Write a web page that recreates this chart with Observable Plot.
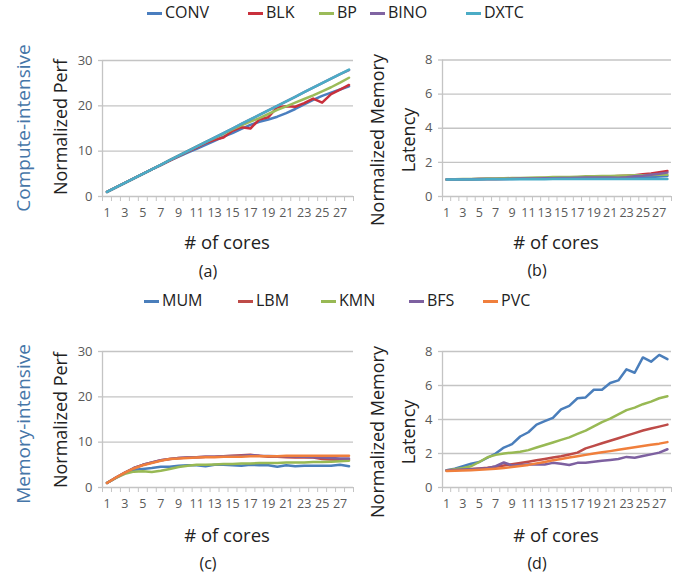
<!DOCTYPE html>
<html><head><meta charset="utf-8">
<script src="https://cdn.jsdelivr.net/npm/d3@7"></script>
<script src="https://cdn.jsdelivr.net/npm/@observablehq/plot@0.6"></script>
<style>
body{margin:0;background:#fff;font-family:"Open Sans",sans-serif;}
#wrap{position:relative;width:692px;height:575px;overflow:hidden;}
.abs{position:absolute;white-space:nowrap;line-height:1;}
.rot{transform:translate(-50%,-50%) rotate(-90deg);}
.ctr{transform:translate(-50%,-50%);}
.sw{position:absolute;height:3px;width:15px;}
svg{position:absolute;}
</style></head><body><div id="wrap"></div>
<script>
// ---------- data ----------
const cores = [1,2,3,4,5,6,7,8,9,10,11,12,13,14,15,16,17,18,19,20,21,22,23,24,25,26,27,28];
const xTickLabels = [1,3,5,7,9,11,13,15,17,19,21,23,25,27];
const xTickMarks = [0.5,1.5,2.5,3.5,4.5,5.5,6.5,7.5,8.5,9.5,10.5,11.5,12.5,13.5,14.5,15.5,16.5,17.5,18.5,19.5,20.5,21.5,22.5,23.5,24.5,25.5,26.5,27.5,28.5];
const perfTicks = [0,10,20,30];
const latTicks = [0,2,4,6,8];

const computeSeries = ["CONV","BLK","BP","BINO","DXTC"];
const memorySeries = ["MUM","LBM","KMN","BFS","PVC"];

// (a) compute-intensive normalized perf
const convPerf = [1,2,3,4,5,6,6.9,7.9,8.8,9.7,10.5,11.4,12.3,13.2,14.0,14.9,15.8,16.5,17.0,17.6,18.4,19.3,20.3,21.3,22.2,22.9,23.6,24.3];
const blkPerf  = [1,2,3,4,5,6,6.9,7.9,8.9,9.9,10.8,11.8,12.5,13.0,14.5,15.3,15.0,17.0,17.5,19.7,19.9,19.8,20.6,21.6,20.7,22.6,23.6,24.6];
const bpPerf   = [1,2,3,4,5,6,7,8,9,10,11,12,12.9,13.8,14.8,15.7,16.5,17.3,18.2,19.1,19.9,20.7,21.5,22.3,23.2,24.1,25.1,26.2];
const binoPerf = [1,2,3,4,5,6,7,8,9,10,11,12,13,14,15,16,17,18,19,20,21,22,23,24,25,26,27,27.9];
const dxtcPerf = [1,2,3,4,5,6,7,8,9,10,11,12,13,14,15,16,17,18,19,20,21,22,23,24,25,26,27,28];

// (b) compute-intensive normalized memory latency
const convLat = [1.0,1.0,1.0,1.01,1.01,1.02,1.02,1.03,1.03,1.04,1.04,1.05,1.05,1.06,1.06,1.07,1.07,1.08,1.09,1.1,1.1,1.11,1.12,1.13,1.14,1.15,1.17,1.2];
const blkLat  = [1.0,1.0,1.01,1.01,1.02,1.02,1.03,1.04,1.04,1.05,1.06,1.07,1.08,1.09,1.1,1.1,1.12,1.13,1.14,1.15,1.17,1.2,1.22,1.25,1.3,1.35,1.42,1.5];
const bpLat   = [1.0,1.01,1.02,1.03,1.04,1.05,1.06,1.07,1.08,1.09,1.1,1.11,1.12,1.14,1.14,1.15,1.16,1.18,1.19,1.2,1.2,1.22,1.23,1.24,1.25,1.26,1.27,1.28];
const binoLat = [1.0,1.0,1.01,1.01,1.02,1.02,1.03,1.03,1.04,1.05,1.05,1.06,1.07,1.07,1.08,1.09,1.1,1.11,1.12,1.12,1.11,1.1,1.13,1.18,1.22,1.28,1.33,1.4];
const dxtcLat = [1.0,1.0,1.0,1.0,1.0,1.01,1.01,1.01,1.01,1.01,1.01,1.01,1.01,1.02,1.02,1.02,1.02,1.02,1.02,1.02,1.02,1.02,1.02,1.02,1.02,1.02,1.02,1.02];

// (c) memory-intensive normalized perf
const mumPerf = [1,2.1,3.2,3.9,4.1,4.3,4.6,4.6,4.8,4.9,4.9,4.7,5.0,5.0,4.9,4.8,5.0,4.9,4.9,4.6,4.9,4.7,4.8,4.8,4.8,4.8,5.0,4.7];
const lbmPerf = [1,2.2,3.3,4.3,5.0,5.5,6.0,6.3,6.5,6.6,6.7,6.8,6.8,6.9,7.0,7.1,7.2,7.0,6.8,6.8,6.7,6.6,6.7,6.6,6.3,6.2,6.1,6.1];
const kmnPerf = [1,2.1,3.0,3.5,3.6,3.4,3.7,4.1,4.5,4.8,5.0,5.0,5.1,5.2,5.2,5.3,5.3,5.4,5.4,5.4,5.5,5.5,5.5,5.6,5.6,5.7,5.8,5.9];
const bfsPerf = [1,2.2,3.3,4.3,5.0,5.5,6.0,6.3,6.5,6.6,6.7,6.8,6.8,6.9,6.95,7.0,7.1,7.0,6.95,6.9,6.9,6.85,6.8,6.7,6.6,6.5,6.4,6.4];
const pvcPerf = [1,2.2,3.3,4.2,4.9,5.4,5.9,6.3,6.4,6.5,6.6,6.7,6.7,6.8,6.8,6.8,6.9,6.9,6.9,6.9,7.0,7.0,7.0,7.0,7.0,7.0,7.0,7.0];

// (d) memory-intensive normalized memory latency
const mumLat = [1.02,1.1,1.25,1.4,1.5,1.75,2.0,2.35,2.55,3.0,3.25,3.7,3.9,4.1,4.6,4.8,5.25,5.3,5.75,5.75,6.15,6.3,6.95,6.75,7.65,7.4,7.8,7.55];
const lbmLat = [1.0,1.03,1.06,1.09,1.12,1.16,1.22,1.3,1.37,1.44,1.52,1.6,1.68,1.76,1.84,1.94,2.05,2.3,2.45,2.6,2.75,2.9,3.05,3.2,3.35,3.47,3.58,3.7];
const kmnLat = [1.0,1.08,1.15,1.25,1.5,1.78,1.92,2.0,2.05,2.1,2.2,2.35,2.5,2.65,2.8,2.95,3.15,3.35,3.6,3.85,4.05,4.3,4.55,4.7,4.9,5.05,5.25,5.37];
const bfsLat = [1.0,1.03,1.06,1.08,1.1,1.13,1.25,1.47,1.3,1.33,1.35,1.37,1.35,1.45,1.4,1.32,1.45,1.45,1.52,1.57,1.62,1.68,1.8,1.75,1.85,1.95,2.05,2.25];
const pvcLat = [0.97,0.98,1.0,1.02,1.04,1.07,1.1,1.14,1.2,1.27,1.33,1.42,1.5,1.6,1.68,1.76,1.84,1.92,2.0,2.07,2.14,2.22,2.3,2.37,2.44,2.51,2.58,2.67];

// ---------- style ----------
const computeColors = ["#4a7ebf","#c9303c","#9bbb59","#8064a2","#4bacc6"];
const memoryColors  = ["#4a7ebb","#be4b48","#98b954","#7d60a0","#f07f3c"];
const gridColor = "#c4c4c4";
const textColor = "#595959";

const wrap = document.getElementById("wrap");

function panel(names, colors, valueArrays, yMax, yTicks, box) {
  const data = names.flatMap((s, k) => cores.map((c, i) => ({core: c, v: valueArrays[k][i], s})));
  const svg = Plot.plot({
    width: box.w, height: box.h,
    marginLeft: box.ml, marginRight: box.mr, marginTop: box.mt, marginBottom: box.mb,
    style: {fontFamily: "Open Sans", fontSize: "12.5px", color: textColor, background: "transparent", overflow: "visible"},
    x: {domain: [0.5, 28.5]},
    y: {domain: [0, yMax]},
    color: {domain: names, range: colors},
    marks: [
      Plot.gridY(yTicks.filter(t => t > 0), {stroke: gridColor, strokeOpacity: 1, strokeWidth: 1.3}),
      Plot.ruleY([0], {stroke: gridColor, strokeWidth: 1.3}),
      Plot.ruleX([0.5], {stroke: gridColor, strokeWidth: 1.3}),
      Plot.axisY(yTicks, {tickSize: 4, tickPadding: 6, stroke: gridColor, strokeWidth: 1.3, fill: textColor, label: null, fontSize: 13}),
      Plot.axisX(xTickMarks, {tickSize: 5, tickFormat: () => "", stroke: gridColor, label: null}),
      Plot.axisX(xTickLabels, {tickSize: 0, tickPadding: 12, fill: textColor, label: null}),
      Plot.line(data, {x: "core", y: "v", stroke: "s", z: "s", strokeWidth: 2.5})
    ]
  });
  svg.style.left = box.left + "px";
  svg.style.top = box.top + "px";
  wrap.appendChild(svg);
}

panel(computeSeries, computeColors, [convPerf, blkPerf, bpPerf, binoPerf, dxtcPerf], 30, perfTicks,
  {left: 0, top: 50, w: 360, h: 175, ml: 102, mr: 7, mt: 10, mb: 29});
panel(computeSeries, computeColors, [convLat, blkLat, bpLat, binoLat, dxtcLat], 8, latTicks,
  {left: 380, top: 50, w: 300, h: 175, ml: 62, mr: 9, mt: 9.5, mb: 29});
panel(memorySeries, memoryColors, [mumPerf, lbmPerf, kmnPerf, bfsPerf, pvcPerf], 30, perfTicks,
  {left: 0, top: 340, w: 360, h: 175, ml: 102, mr: 7, mt: 11, mb: 28});
panel(memorySeries, memoryColors, [mumLat, lbmLat, kmnLat, bfsLat, pvcLat], 8, latTicks,
  {left: 380, top: 340, w: 300, h: 175, ml: 62, mr: 9, mt: 11, mb: 28});

// ---------- text ----------
function label(text, x, y, size, cls, color) {
  const d = document.createElement("div");
  d.className = "abs " + cls;
  d.textContent = text;
  d.style.left = x + "px"; d.style.top = y + "px";
  d.style.fontSize = size + "px";
  d.style.color = color || "#222";
  wrap.appendChild(d);
}
const sideColor = "#4676a8";
label("Compute-intensive", 23, 128, 19, "rot", sideColor);
label("Memory-intensive", 23, 424, 19, "rot", sideColor);
label("Normalized Perf", 60, 127, 18, "rot");
label("Normalized Perf", 60, 420, 18, "rot");
label("Normalized Memory", 377, 140, 18, "rot");
label("Latency", 408, 140, 18, "rot");
label("Normalized Memory", 377, 432, 18, "rot");
label("Latency", 408, 432, 18, "rot");
const panelLabels = ["(a)", "(b)", "(c)", "(d)"];
const coreTitle = "# of cores";
label(coreTitle, 227, 242, 18.5, "ctr");
label(coreTitle, 556, 242, 18.5, "ctr");
label(coreTitle, 227, 535, 18.5, "ctr");
label(coreTitle, 556, 535, 18.5, "ctr");
label(panelLabels[0], 208, 271, 16, "ctr");
label(panelLabels[1], 537, 270, 16, "ctr");
label(panelLabels[2], 208, 563, 16, "ctr");
label(panelLabels[3], 537, 563, 16, "ctr");

// ---------- legends ----------
const computeLegendX = [147, 248, 319, 370, 466];
const memoryLegendX  = [144, 238, 321, 409, 483];
function legend(names, colors, xs, y) {
  names.forEach((n, i) => {
    const s = document.createElement("div");
    s.className = "sw";
    s.style.left = xs[i] + "px"; s.style.top = (y - 1.5) + "px";
    s.style.background = colors[i];
    wrap.appendChild(s);
    const t = document.createElement("div");
    t.className = "abs";
    t.textContent = n;
    t.style.left = (xs[i] + 18) + "px"; t.style.top = (y - 9) + "px";
    t.style.fontSize = "16px"; t.style.color = "#222";
    wrap.appendChild(t);
  });
}
legend(computeSeries, computeColors, computeLegendX, 13);
legend(memorySeries, memoryColors, memoryLegendX, 301);
</script></body></html>
